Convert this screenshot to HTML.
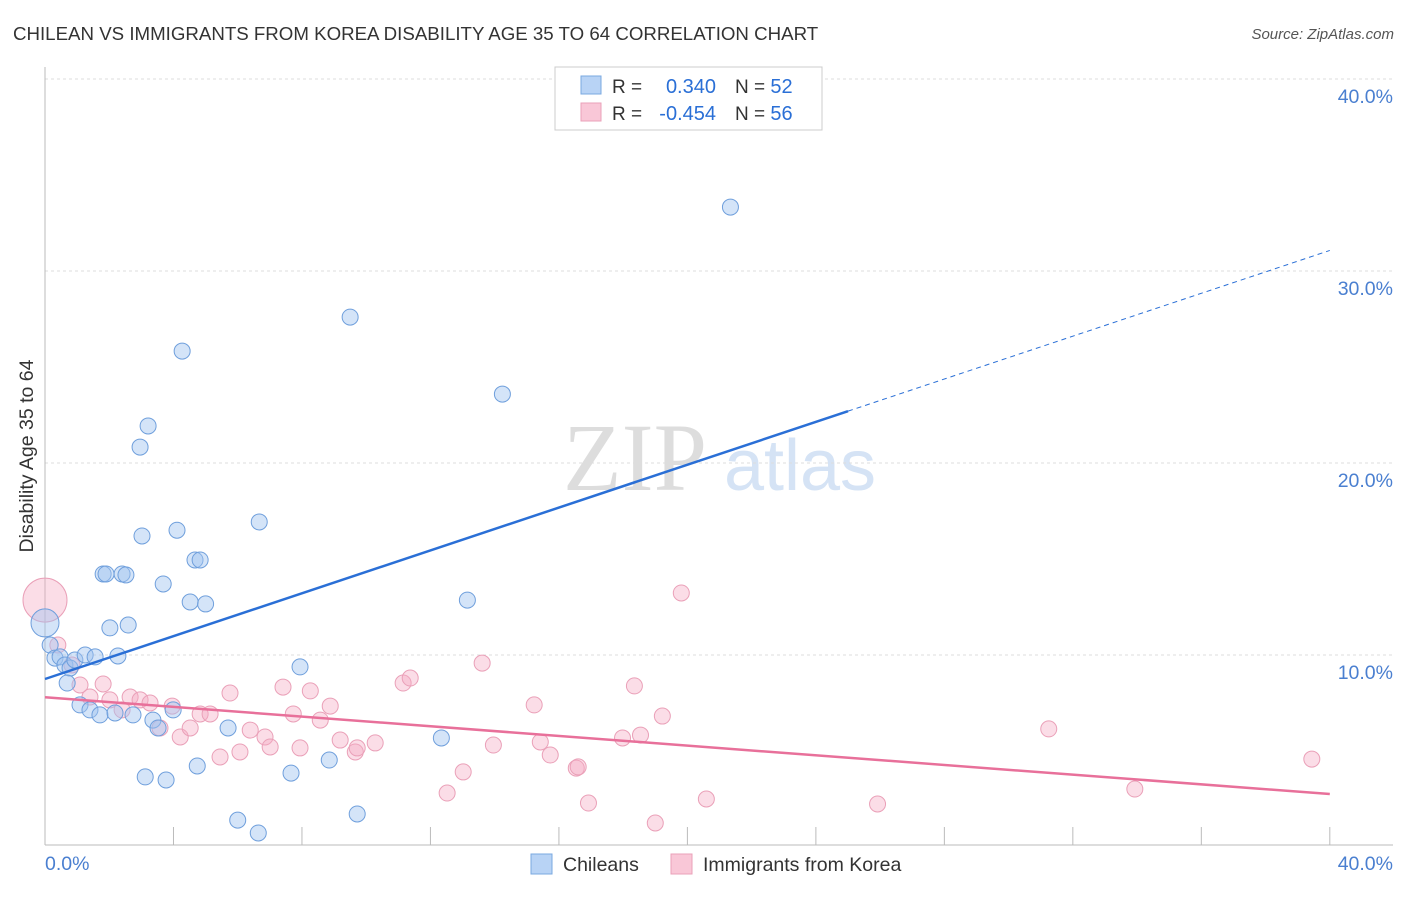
<!DOCTYPE html>
<html><head><meta charset="utf-8"><style>
body{margin:0;background:#fff;font-family:"Liberation Sans",sans-serif;}
</style></head><body>
<svg width="1406" height="892" xmlns="http://www.w3.org/2000/svg" font-family="Liberation Sans, sans-serif">
<text x="13" y="40" font-size="18.7" fill="#333">CHILEAN VS IMMIGRANTS FROM KOREA DISABILITY AGE 35 TO 64 CORRELATION CHART</text>
<text x="1394" y="39" font-size="15" fill="#555" font-style="italic" text-anchor="end">Source: ZipAtlas.com</text>
<g>
<text x="635" y="490" font-size="96" fill="#ddd" font-family="Liberation Serif, serif" text-anchor="middle">ZIP</text>
<text x="800" y="490" font-size="72" fill="#d5e3f5" text-anchor="middle">atlas</text>
</g>
<g id="grid"></g>
<g id="axes"></g>
<g id="marks"></g>
<g>
<rect x="555" y="67" width="267" height="63" fill="#fff" stroke="#ccc"/>
<rect x="581" y="76" width="20" height="18" fill="#b8d3f5" stroke="#7aa8e0"/>
<rect x="581" y="103" width="20" height="18" fill="#f9c7d7" stroke="#eaa0b8"/>
<text x="612" y="93" font-size="19" fill="#333">R =</text>
<text x="716" y="93" font-size="20" fill="#2a6fd6" text-anchor="end">0.340</text>
<text x="735" y="93" font-size="19" fill="#333">N = <tspan fill="#2a6fd6" font-size="20">52</tspan></text>
<text x="612" y="120" font-size="19" fill="#333">R =</text>
<text x="716" y="120" font-size="20" fill="#2a6fd6" text-anchor="end">-0.454</text>
<text x="735" y="120" font-size="19" fill="#333">N = <tspan fill="#2a6fd6" font-size="20">56</tspan></text>
</g>
<g>
<rect x="531" y="854" width="21" height="20" fill="#b8d3f5" stroke="#7aa8e0"/>
<text x="563" y="871" font-size="19.5" fill="#333">Chileans</text>
<rect x="671" y="854" width="21" height="20" fill="#f9c7d7" stroke="#eaa0b8"/>
<text x="703" y="871" font-size="19.5" fill="#333">Immigrants from Korea</text>
</g>
<text transform="translate(33,456) rotate(-90)" font-size="19.5" fill="#333" text-anchor="middle">Disability Age 35 to 64</text>
</svg>
<script>
const yTicks=[10,20,30,40];
const yTickLabels=["10.0%","20.0%","30.0%","40.0%"];
const blueX=[0,0.16,0.31,0.47,0.62,0.78,0.69,0.93,1.09,1.25,1.4,1.56,1.71,1.81,1.9,2.02,2.18,2.27,2.4,2.52,2.59,2.74,2.96,3.02,3.21,3.12,3.36,3.52,3.68,3.77,3.99,4.11,4.27,4.52,4.67,4.83,4.74,5.0,5.7,6.0,6.64,6.67,7.66,7.94,8.85,9.5,9.72,12.34,13.15,14.24,21.34];
const blueY=[11.67,10.52,9.84,9.9,9.48,9.32,8.54,9.74,7.4,10.0,7.14,9.9,6.88,14.22,14.22,11.41,6.98,9.95,14.22,14.17,11.56,6.88,20.83,16.2,21.93,3.65,6.61,6.2,13.7,3.49,7.14,16.5,25.83,12.76,14.95,14.95,4.22,12.66,6.2,1.4,0.73,16.93,3.85,9.38,4.53,27.6,1.72,5.68,12.86,23.59,33.33];
const pinkX=[0,0.4,0.84,1.09,1.4,1.81,2.02,2.4,2.65,2.96,3.27,3.58,3.96,4.21,4.52,4.83,5.14,5.45,5.76,6.07,6.39,6.85,7.01,7.41,7.73,7.94,8.26,8.57,8.88,9.19,9.66,9.72,10.28,11.15,11.37,12.52,13.02,13.61,13.96,15.23,15.42,15.73,16.54,16.6,16.92,17.98,18.35,18.54,19.0,19.22,19.81,20.59,25.92,31.25,33.93,39.44];
const pinkY=[12.86,10.52,9.48,8.44,7.81,8.49,7.66,7.14,7.81,7.66,7.5,6.2,7.34,5.73,6.2,6.93,6.93,4.69,8.02,4.95,6.09,5.73,5.21,8.33,6.93,5.16,8.13,6.61,7.34,5.57,4.95,5.16,5.42,8.54,8.8,2.81,3.91,9.58,5.31,7.4,5.47,4.79,4.11,4.17,2.29,5.68,8.39,5.83,1.25,6.82,13.23,2.5,2.24,6.15,3.02,4.58];
const blueTrend=[8.75,0.558];
const pinkTrend=[7.8,-0.126];
const NS="http://www.w3.org/2000/svg";
const sx=v=>45+v*32.12, sy=v=>847-v*19.2;
function mk(t,a,p){const e=document.createElementNS(NS,t);for(const k in a)e.setAttribute(k,a[k]);p.appendChild(e);return e;}
const grid=document.getElementById('grid'),axes=document.getElementById('axes'),marks=document.getElementById('marks');
yTicks.forEach((t,i)=>{
 const l=mk('line',{x1:45,x2:1393,y1:sy(t),y2:sy(t),stroke:'#ddd','stroke-dasharray':'3,3'},grid);
 
 
 const tx=mk('text',{x:1393,y:sy(t)+24,'font-size':19.5,fill:'#4a7fd0','text-anchor':'end'},axes);
 tx.textContent=yTickLabels[i];
 
 
});
mk('line',{x1:45,x2:45,y1:67,y2:845,stroke:'#bbb'},axes);
mk('line',{x1:45,x2:1393,y1:845,y2:845,stroke:'#bbb'},axes);
for(let i=1;i<=10;i++){const x=sx(i*4);mk('line',{x1:x,x2:x,y1:827,y2:845,stroke:'#bbb'},axes);}
const x0=mk('text',{x:45,y:870,'font-size':19.5,fill:'#4a7fd0'},axes);x0.textContent="0.0%";


const x1=mk('text',{x:1393,y:870,'font-size':19.5,fill:'#4a7fd0','text-anchor':'end'},axes);x1.textContent="40.0%";


pinkX.forEach((x,i)=>{const c=mk('circle',{cx:sx(x),cy:sy(pinkY[i]),r:i==0?22:8,fill:'rgba(245,170,195,0.4)',stroke:'#eaa0b8','stroke-width':1},marks);
 
 });
blueX.forEach((x,i)=>{const c=mk('circle',{cx:sx(x),cy:sy(blueY[i]),r:i==0?14:8,fill:'rgba(160,196,240,0.45)',stroke:'#6f9fdc','stroke-width':1},marks);
 
 });
const f=(t,x)=>t[0]+t[1]*x;
let l=mk('line',{x1:sx(0),y1:sy(f(blueTrend,0)),x2:sx(25),y2:sy(f(blueTrend,25)),stroke:'#2a6fd6','stroke-width':2.5},marks);


l=mk('line',{x1:sx(25),y1:sy(f(blueTrend,25)),x2:sx(40),y2:sy(f(blueTrend,40)),stroke:'#2a6fd6','stroke-width':1,'stroke-dasharray':'5,4'},marks);


l=mk('line',{x1:sx(0),y1:sy(f(pinkTrend,0)),x2:sx(40),y2:sy(f(pinkTrend,40)),stroke:'#e8709a','stroke-width':2.5},marks);


</script>
</body></html>
